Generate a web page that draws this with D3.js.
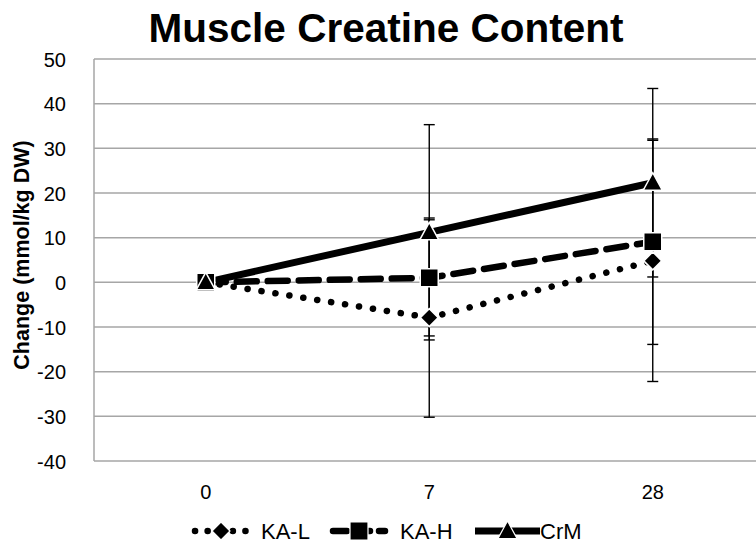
<!DOCTYPE html>
<html><head><meta charset="utf-8">
<script src="https://cdn.jsdelivr.net/npm/d3@7"></script>
<style>html,body{margin:0;padding:0;background:#fff;overflow:hidden}</style>
</head><body>
<svg id="c" width="756" height="548"></svg>
<script>
const categories = ["0", "7", "28"];
const seriesNames = ["KA-L", "KA-H", "CrM"];
const kaL = [0, -7.9, 4.8];
const kaH = [0, 1.0, 9.1];
const crM = [0, 11.2, 22.3];
const kaLErr = [0, 22.3, 27.0];
const kaHErr = [0, 13.0, 23.0];
const crMErr = [0, 24.1, 21.1];
const yTicks = [50, 40, 30, 20, 10, 0, -10, -20, -30, -40];

(function () {
const svg = d3.select("#c");
const font = "'Liberation Sans', Arial, sans-serif";
const pLeft = 94, pRight = 764.5, pTop = 59, pBottom = 461;

const x = d3.scaleBand().domain(categories).range([pLeft, pRight]);
const y = d3.scaleLinear().domain([-40, 50]).range([pBottom, pTop]);
const cx = c => x(c) + x.bandwidth() / 2;

// gridlines
svg.append("g").selectAll("line").data(yTicks).join("line")
  .attr("x1", pLeft).attr("x2", pRight)
  .attr("y1", d => y(d)).attr("y2", d => y(d))
  .attr("stroke", "#a6a6a6").attr("stroke-width", 1.5);
svg.append("line").attr("x1", pLeft).attr("x2", pLeft).attr("y1", pTop).attr("y2", pBottom)
  .attr("stroke", "#a6a6a6").attr("stroke-width", 1.5);

// y axis labels
const yAxis = d3.axisLeft(y).tickValues(yTicks).tickFormat(d => String(d)).tickSize(0).tickPadding(0);
const ga = svg.append("g").attr("transform", `translate(${pLeft - 28},0)`).call(yAxis);
ga.select(".domain").remove();
ga.selectAll("text").attr("font-family", font).attr("font-size", 20).attr("fill", "#000").attr("dy", "0.35em");

// x axis labels
const xAxis = d3.axisBottom(x).tickSize(0).tickPadding(0);
const gx = svg.append("g").attr("transform", `translate(0,${pBottom + 24})`).call(xAxis);
gx.select(".domain").remove();
gx.selectAll("text").attr("font-family", font).attr("font-size", 20).attr("fill", "#000").attr("dy", "0.71em");

// title
svg.append("text").attr("x", 386).attr("y", 42).attr("text-anchor", "middle")
  .attr("font-family", font).attr("font-weight", "bold").attr("font-size", 40.5)
  .text("Muscle Creatine Content");

// y title
svg.append("text").attr("transform", `translate(29,255) rotate(-90)`).attr("text-anchor", "middle")
  .attr("font-family", font).attr("font-weight", "bold").attr("font-size", 21.5)
  .text("Change (mmol/kg DW)");

const series = [
  {name: seriesNames[0], vals: kaL, err: kaLErr, dash: "0.1 14", width: 6.5, cap: "round", shape: "diamond"},
  {name: seriesNames[1], vals: kaH, err: kaHErr, dash: "20 11", width: 6.5, cap: "round", shape: "square"},
  {name: seriesNames[2], vals: crM, err: crMErr, dash: null, width: 7, cap: "butt", shape: "triangle"}
];

const line = d3.line().x((d, i) => cx(categories[i])).y(d => y(d));

series.forEach(s => {
  svg.append("path").attr("d", line(s.vals)).attr("fill", "none")
    .attr("stroke", "#000").attr("stroke-width", s.width)
    .attr("stroke-dasharray", s.dash).attr("stroke-linecap", s.cap);
});

// error bars
series.forEach(s => {
  const g = svg.append("g").attr("stroke", "#000").attr("stroke-width", 1.4);
  s.vals.forEach((v, i) => {
    if (!s.err[i]) return;
    const xc = cx(categories[i]);
    g.append("line").attr("x1", xc).attr("x2", xc).attr("y1", y(v + s.err[i])).attr("y2", y(v - s.err[i]));
    [v + s.err[i], v - s.err[i]].forEach(e => {
      g.append("line").attr("x1", xc - 5.5).attr("x2", xc + 5.5).attr("y1", y(e)).attr("y2", y(e));
    });
  });
});

function shapePath(shape) {
  if (shape === "diamond") return "M0,-9L9,0L0,9L-9,0Z";
  if (shape === "square") return "M-9,-9H9V9H-9Z";
  return "M0,-10L9.5,7.5H-9.5Z";
}

series.forEach(s => {
  svg.append("g").selectAll("path").data(s.vals).join("path")
    .attr("transform", (d, i) => `translate(${cx(categories[i])},${y(d)})`)
    .attr("d", shapePath(s.shape)).attr("fill", "#000")
    .attr("stroke", "#fff").attr("stroke-width", 1.5);
});

// legend
const legendY = 531;
const legendItems = [
  {s: series[0], x1: 195, x2: 247, tx: 261},
  {s: series[1], x1: 333, x2: 385, tx: 400},
  {s: series[2], x1: 475, x2: 540, tx: 540}
];
legendItems.forEach(L => {
  const s = L.s;
  svg.append("line").attr("x1", L.x1).attr("x2", L.x2).attr("y1", legendY).attr("y2", legendY)
    .attr("stroke", "#000").attr("stroke-width", s.width)
    .attr("stroke-dasharray", s.shape === "diamond" ? "0.1 12.5" : (s.shape === "square" ? "14 9" : null))
    .attr("stroke-linecap", s.cap === "round" ? "round" : "butt");
  svg.append("path").attr("transform", `translate(${(L.x1 + L.x2) / 2},${legendY})`)
    .attr("d", shapePath(s.shape)).attr("fill", "#000").attr("stroke", "#fff").attr("stroke-width", 1.2);
  svg.append("text").attr("x", L.tx).attr("y", legendY).attr("dy", "0.36em")
    .attr("font-family", font).attr("font-size", 22).text(s.name);
});
})();
</script>
</body></html>
